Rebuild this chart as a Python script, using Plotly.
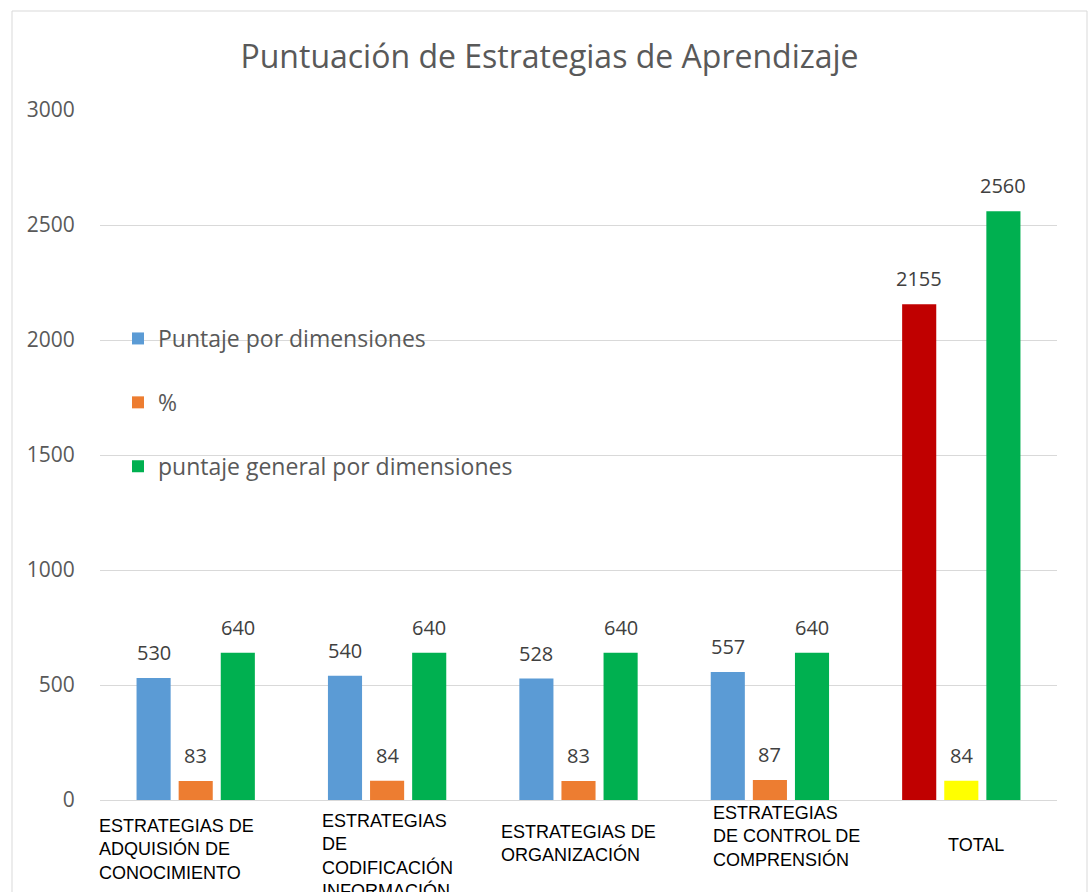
import plotly.graph_objects as go

categories = [
    "ESTRATEGIAS DE<br>ADQUISIÓN DE<br>CONOCIMIENTO",
    "ESTRATEGIAS<br>DE<br>CODIFICACIÓN<br>INFORMACIÓN",
    "ESTRATEGIAS DE<br>ORGANIZACIÓN",
    "ESTRATEGIAS<br>DE CONTROL DE<br>COMPRENSIÓN",
    "TOTAL",
]
series_names = ["Puntaje por dimensiones", "%", "puntaje general por dimensiones"]
puntaje = [530, 540, 528, 557, 2155]
porcentaje = [83, 84, 83, 87, 84]
general = [640, 640, 640, 640, 2560]

colors_puntaje = ["#5B9BD5"] * 4 + ["#C00000"]
colors_pct = ["#ED7D31"] * 4 + ["#FFFF00"]
colors_general = ["#00B050"] * 5

# label placement tweaks (pixels) for the wrapped category labels
label_xshift = [-19, 0, 0, 17, 15]
label_yshift = [-14, -9, -20, -1, -33]

W, H = 1088, 892
L, R, T, B = 100, 31, 110, 92
BARGAP = 0.34
BARGROUPGAP = 0.19

fig = go.Figure()
xs = list(range(len(categories)))
all_series = [puntaje, porcentaje, general]
all_colors = [colors_puntaje, colors_pct, colors_general]
for i, (name, vals, cols) in enumerate(zip(series_names, all_series, all_colors)):
    fig.add_trace(go.Bar(
        x=xs, y=vals, name=name,
        marker=dict(color=cols, line=dict(width=0)),
        legendgroup=f"g{i}",
    ))

annotations = []
slot = (1 - BARGAP) / 3
for j, vals in enumerate(all_series):
    for i, v in enumerate(vals):
        annotations.append(dict(
            x=i + (j - 1) * slot, y=v, xref="x", yref="y",
            text=str(v), showarrow=False, yanchor="bottom", yshift=10,
            font=dict(family="Open Sans", size=20, color="#404040"),
        ))
for i, cat in enumerate(categories):
    annotations.append(dict(
        x=i, y=0, xref="x", yref="paper", text=cat, showarrow=False,
        xanchor="center", yanchor="top", align="left",
        xshift=label_xshift[i], yshift=label_yshift[i],
        font=dict(family="Liberation Sans, Arial", size=18, color="#000000"),
    ))

plot_w = W - L - R
plot_h = H - T - B
fig.update_layout(
    width=W, height=H,
    margin=dict(l=L, r=R, t=T, b=B),
    paper_bgcolor="white", plot_bgcolor="white",
    barmode="group", bargap=BARGAP, bargroupgap=BARGROUPGAP,
    title=dict(text="Puntuación de Estrategias de Aprendizaje",
               x=549.5 / W, xanchor="center", y=1 - 57 / H, yanchor="middle",
               font=dict(family="Open Sans", size=32, color="#595959")),
    xaxis=dict(range=[-0.5, 4.5], showticklabels=False, showgrid=False,
               showline=True, linecolor="#D9D9D9", linewidth=1, ticks="",
               zeroline=False),
    yaxis=dict(range=[0, 3000], tickvals=[0, 500, 1000, 1500, 2000, 2500, 3000],
               showgrid=True, gridcolor="#D9D9D9", gridwidth=1, zeroline=False,
               showline=False, ticks="outside", ticklen=20, tickcolor="rgba(0,0,0,0)",
               tickfont=dict(family="Open Sans", size=21, color="#595959")),
    legend=dict(x=(118 - L) / plot_w, y=(H - B - 317) / plot_h, xanchor="left", yanchor="top",
                bgcolor="rgba(0,0,0,0)", tracegroupgap=31,
                font=dict(family="Open Sans", size=23, color="#595959"),
                itemsizing="constant"),
    annotations=annotations,
    shapes=[dict(type="rect", xref="paper", yref="paper",
                 x0=(12 - L) / plot_w, x1=(1087 - L) / plot_w,
                 y0=-0.5, y1=(H - B - 11) / plot_h,
                 line=dict(color="#D9D9D9", width=1), fillcolor="rgba(0,0,0,0)",
                 layer="below")],
)

fig.write_html("out.html", config={"displayModeBar": False},
               post_script="document.body.style.margin='0';document.body.style.overflow='hidden';")
